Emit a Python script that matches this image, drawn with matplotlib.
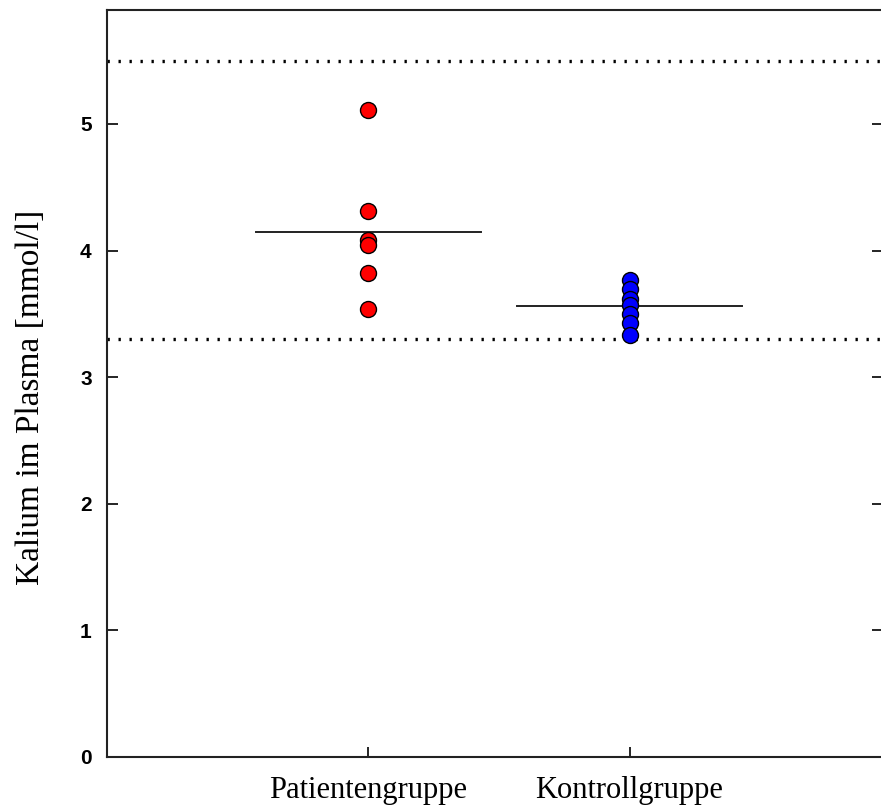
import numpy as np
import matplotlib
matplotlib.use("Agg")
import matplotlib.pyplot as plt

# Kalium values per group (mmol/l)
groups = ["Patientengruppe", "Kontrollgruppe"]
patient_values = [5.11, 4.31, 4.08, 4.04, 3.82, 3.54]
control_values = [3.77, 3.70, 3.62, 3.57, 3.50, 3.43, 3.33]
group_colors = ["#ff0000", "#0000ff"]

# Reference range limits
ref_low = 3.3
ref_high = 5.5

y_ticks = [0, 1, 2, 3, 4, 5]


def draw_group(ax, pos, values, color):
    """Scatter the single values and a horizontal line at the group mean."""
    xs = np.full(len(values), pos)
    ax.plot(xs, values, "o", color=color, markeredgecolor="black",
            markeredgewidth=1.0, markersize=11.5, zorder=3, linestyle="none")
    mean = np.mean(values)
    ax.plot([pos - 0.43, pos + 0.43], [mean, mean], color="#222222",
            linewidth=1.4, zorder=2)


fig = plt.figure(figsize=(8.81, 8.09), dpi=100)
ax = fig.add_axes([107 / 881, 52 / 809, 776 / 881, 747 / 809])

# Reference range as dotted lines
for level in (ref_low, ref_high):
    ax.axhline(level, color="black", linewidth=2.4,
               linestyle=(0, (0.7, 2.6)), zorder=1)

draw_group(ax, 1, patient_values, group_colors[0])
draw_group(ax, 2, control_values, group_colors[1])

ax.set_xlim(0, 2.97)
ax.set_ylim(0, 5.9)

ax.set_xticks([1, 2])
ax.set_xticklabels(groups, fontfamily="Liberation Serif", fontsize=22)
ax.set_yticks(y_ticks)
ax.set_yticklabels([str(t) for t in y_ticks], fontfamily="Liberation Sans",
                   fontsize=15, fontweight="bold")

# ticks point into the plot on all sides
ax.tick_params(axis="x", direction="in", length=7, width=1.2, pad=14)
ax.tick_params(axis="y", direction="in", length=8, width=1.2, pad=11,
               left=True, right=True)

for spine in ax.spines.values():
    spine.set_linewidth(1.5)
    spine.set_color("#222222")

ax.set_ylabel("Kalium im Plasma [mmol/l]", fontfamily="Liberation Serif",
              fontsize=24)
ax.yaxis.set_label_coords(-0.079, 0.482)

fig.savefig("out.png", dpi=100)
